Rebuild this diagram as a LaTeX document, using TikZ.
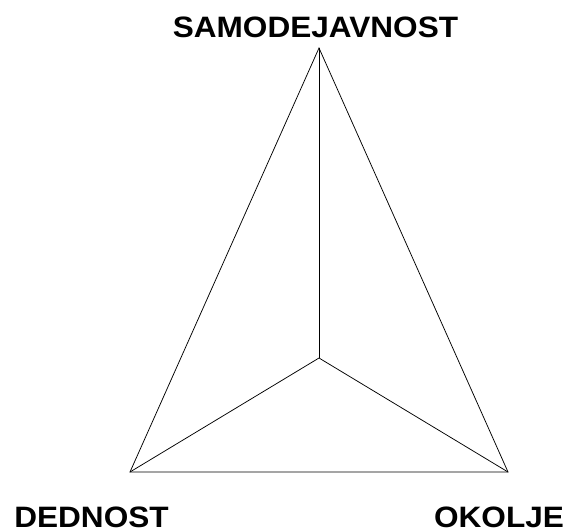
\documentclass[tikz,border=0pt]{standalone}
\usepackage{fontspec}
\setmainfont{Liberation Sans}
\usepackage{graphicx}
\tikzset{
  lbl/.style={font=\fontsize{29.5}{31}\selectfont\bfseries, inner sep=0pt, anchor=base, text depth=0pt},
  edge/.style={draw=black, line width=0.75pt, line join=miter},
}
\newcommand{\wtxt}[1]{\scalebox{1.07}[1]{#1}}
\begin{document}
\begin{tikzpicture}[x=1pt,y=-1pt]
\useasboundingbox (0,0) rectangle (565,532);
\coordinate (T) at (319,48);
\coordinate (L) at (130,472);
\coordinate (R) at (508,472);
\coordinate (C) at (319,358);
\draw[edge] (T) -- (L) -- (R) -- cycle;
\draw[edge] (T) -- (C);
\draw[edge] (L) -- (C);
\draw[edge] (R) -- (C);
\node[lbl] (ts) at (315.5,37.5) {\wtxt{SAMODEJAVNOST}};
\node[lbl] (ls) at (91.5,527) {\wtxt{DEDNOST}};
\node[lbl] (rs) at (499,527) {\wtxt{OKOLJE}};
\end{tikzpicture}
\end{document}
